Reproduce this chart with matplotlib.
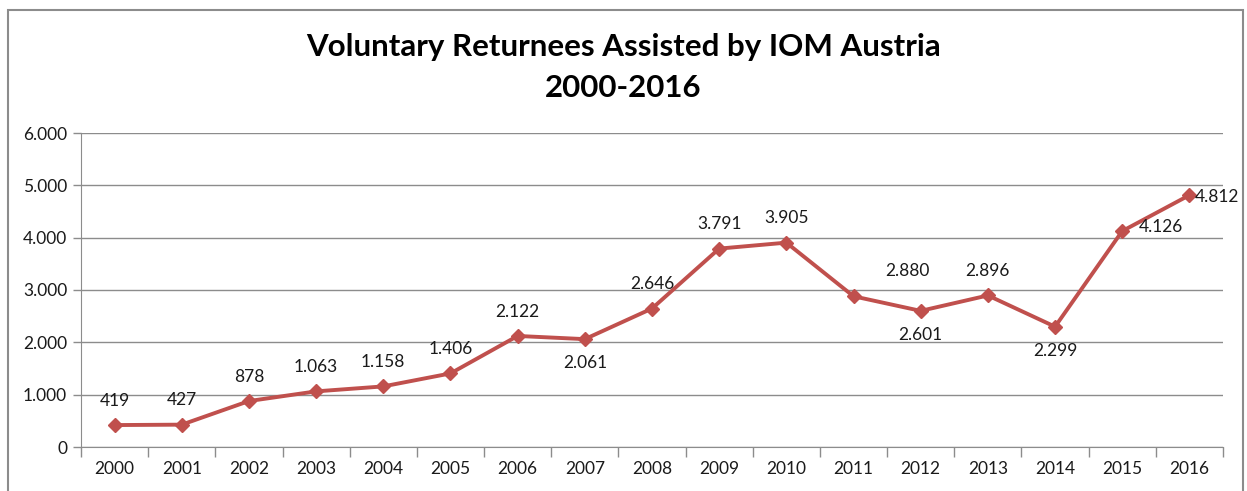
import matplotlib.pyplot as plt
from matplotlib.patches import Rectangle

years = [str(y) for y in range(2000, 2017)]
returnees = [419, 427, 878, 1063, 1158, 1406, 2122, 2061, 2646, 3791,
             3905, 2880, 2601, 2896, 2299, 4126, 4812]
# where each data label sits relative to its point
label_pos = ["above", "above", "above", "above", "above", "above", "above",
             "below", "above", "above", "above", "aboveright", "below",
             "above", "below", "farright", "right"]

plt.rcParams["font.family"] = ["Lato", "DejaVu Sans"]

RED = "#C0504D"
GRID = "#8C8C8C"
TXT = "#1a1a1a"
FS = 12.5

fig = plt.figure(figsize=(12.47, 4.91), dpi=100)
fig.patches.append(Rectangle((8 / 1247, -0.1), 1235 / 1247, 1.1 - 10 / 491,
                             transform=fig.transFigure, fill=False,
                             edgecolor="#8C8C8C", linewidth=1.5))

ax = fig.add_axes([81 / 1247, 44 / 491, 1142 / 1247, 314 / 491])
x = list(range(len(years)))
ax.plot(x, returnees, color=RED, linewidth=2.8, marker="D", markersize=7.5,
        markerfacecolor=RED, markeredgecolor=RED, zorder=3)

offsets = {
    "above": ((0, 17.5), "center"),
    "below": ((0, -17.5), "center"),
    "aboveright": ((39, 18), "center"),
    "farright": ((12, 3), "left"),
    "right": ((4, -1), "left"),
}
for xi, v, pos in zip(x, returnees, label_pos):
    txt = f"{v:,}".replace(",", ".")
    off, ha = offsets[pos]
    ax.annotate(txt, (xi, v), xytext=off, textcoords="offset points",
                ha=ha, va="center", fontsize=FS, color=TXT)

ax.set_xlim(-0.5, len(years) - 0.5)
ax.set_ylim(0, 6000)
ax.set_yticks(range(0, 6001, 1000))
ax.set_yticklabels([f"{t:,}".replace(",", ".") for t in range(0, 6001, 1000)])
ax.yaxis.grid(True, color=GRID, linewidth=1)
ax.set_axisbelow(True)

ax.set_xticks(x)
ax.set_xticklabels(years)
ax.set_xticks([i - 0.5 for i in range(len(years) + 1)], minor=True)
ax.tick_params(axis="x", which="major", length=0, pad=10, labelsize=FS,
               labelcolor=TXT)
ax.tick_params(axis="x", which="minor", length=7, color=GRID, width=1)
ax.tick_params(axis="y", length=6, color=GRID, width=1, labelsize=FS,
               labelcolor=TXT, pad=4)

for side in ["top", "right"]:
    ax.spines[side].set_visible(False)
ax.spines["left"].set_color(GRID)
ax.spines["bottom"].set_color(GRID)

fig.text(0.5, 0.8625, "Voluntary Returnees Assisted by IOM Austria\n2000-2016",
         ha="center", va="center", fontsize=22.5, fontweight="bold",
         linespacing=1.55)

fig.savefig("out.png", dpi=100)
